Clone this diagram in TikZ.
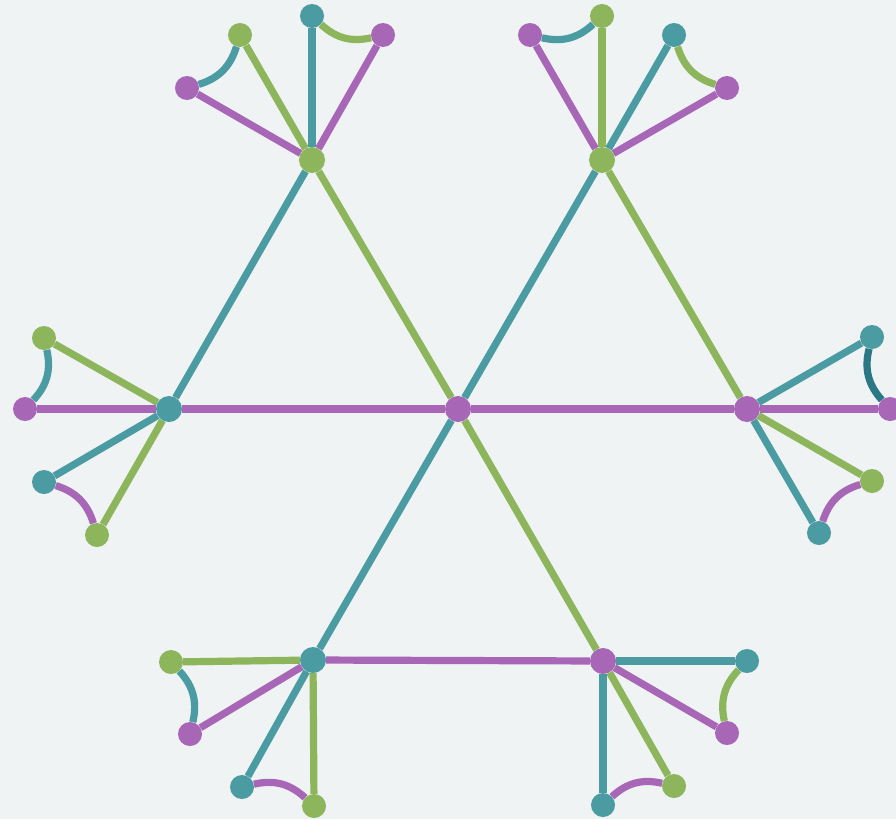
\documentclass[tikz,border=0pt]{standalone}
\usepackage{xcolor}
\usepackage{tikz}
\definecolor{FlakeTeal}{HTML}{4A9BA2}
\definecolor{FlakeGreen}{HTML}{8DB55C}
\definecolor{FlakePurple}{HTML}{A866B6}
\definecolor{FlakeDeep}{HTML}{2A7884}
\definecolor{Frost}{HTML}{EFF3F4}

\begin{document}
\begin{tikzpicture}[x=1pt,y=-1pt]
  \fill[Frost] (0,0) rectangle (896,819);
  \path[use as bounding box] (0,0) rectangle (896,819);
  \tikzset{
    flakeDot/.style={circle, minimum size=24pt, inner sep=0pt, draw=none},
    flakeHub/.style={flakeDot, minimum size=26pt},
    dotTeal/.style={fill=FlakeTeal},
    dotGreen/.style={fill=FlakeGreen},
    dotPurple/.style={fill=FlakePurple},
    flakeLink/.style={line width=7.2pt},
    flakeArc/.style={line width=7.2pt, bend right=28}
  }

  % centre and the six hubs
  \node[flakeHub,dotPurple] (core) at (458,409) {};
  \node[flakeHub,dotGreen] (hubTL) at (312,160) {};
  \node[flakeHub,dotGreen] (hubTR) at (602,160) {};
  \node[flakeHub,dotTeal] (hubL) at (169,409) {};
  \node[flakeHub,dotPurple] (hubR) at (747,409) {};
  \node[flakeHub,dotTeal] (hubBL) at (313,660) {};
  \node[flakeHub,dotPurple] (hubBR) at (603,661) {};

  % leaves, four per hub
  \node[flakeDot,dotPurple] (tlA) at (187,88) {};
  \node[flakeDot,dotGreen] (tlB) at (240,35) {};
  \node[flakeDot,dotTeal] (tlC) at (312,16) {};
  \node[flakeDot,dotPurple] (tlD) at (383,35) {};

  \node[flakeDot,dotPurple] (trA) at (530,35) {};
  \node[flakeDot,dotGreen] (trB) at (602,16) {};
  \node[flakeDot,dotTeal] (trC) at (674,35) {};
  \node[flakeDot,dotPurple] (trD) at (727,88) {};

  \node[flakeDot,dotGreen] (lA) at (44,338) {};
  \node[flakeDot,dotPurple] (lB) at (25,409) {};
  \node[flakeDot,dotTeal] (lC) at (44,482) {};
  \node[flakeDot,dotGreen] (lD) at (97,535) {};

  \node[flakeDot,dotTeal] (rA) at (872,337) {};
  \node[flakeDot,dotPurple] (rB) at (890,409) {};
  \node[flakeDot,dotGreen] (rC) at (872,481) {};
  \node[flakeDot,dotTeal] (rD) at (819,533) {};

  \node[flakeDot,dotGreen] (blA) at (171,662) {};
  \node[flakeDot,dotPurple] (blB) at (190,734) {};
  \node[flakeDot,dotTeal] (blC) at (242,787) {};
  \node[flakeDot,dotGreen] (blD) at (314,806) {};

  \node[flakeDot,dotTeal] (brA) at (747,661) {};
  \node[flakeDot,dotPurple] (brB) at (727,733) {};
  \node[flakeDot,dotGreen] (brC) at (674,786) {};
  \node[flakeDot,dotTeal] (brD) at (603,805) {};

  % spokes from the centre, and the three outer sides
  \draw[flakeLink,FlakeGreen] (core) -- (hubTL);
  \draw[flakeLink,FlakeTeal] (core) -- (hubTR);
  \draw[flakeLink,FlakePurple] (core) -- (hubL);
  \draw[flakeLink,FlakePurple] (core) -- (hubR);
  \draw[flakeLink,FlakeTeal] (core) -- (hubBL);
  \draw[flakeLink,FlakeGreen] (core) -- (hubBR);
  \draw[flakeLink,FlakeTeal] (hubTL) -- (hubL);
  \draw[flakeLink,FlakeGreen] (hubTR) -- (hubR);
  \draw[flakeLink,FlakePurple] (hubBL) -- (hubBR);

  % hub to leaf, in the leaf's colour
  \draw[flakeLink,FlakePurple] (hubTL) -- (tlA);
  \draw[flakeLink,FlakeGreen] (hubTL) -- (tlB);
  \draw[flakeLink,FlakeTeal] (hubTL) -- (tlC);
  \draw[flakeLink,FlakePurple] (hubTL) -- (tlD);

  \draw[flakeLink,FlakePurple] (hubTR) -- (trA);
  \draw[flakeLink,FlakeGreen] (hubTR) -- (trB);
  \draw[flakeLink,FlakeTeal] (hubTR) -- (trC);
  \draw[flakeLink,FlakePurple] (hubTR) -- (trD);

  \draw[flakeLink,FlakeGreen] (hubL) -- (lA);
  \draw[flakeLink,FlakePurple] (hubL) -- (lB);
  \draw[flakeLink,FlakeTeal] (hubL) -- (lC);
  \draw[flakeLink,FlakeGreen] (hubL) -- (lD);

  \draw[flakeLink,FlakeTeal] (hubR) -- (rA);
  \draw[flakeLink,FlakePurple] (hubR) -- (rB);
  \draw[flakeLink,FlakeGreen] (hubR) -- (rC);
  \draw[flakeLink,FlakeTeal] (hubR) -- (rD);

  \draw[flakeLink,FlakeGreen] (hubBL) -- (blA);
  \draw[flakeLink,FlakePurple] (hubBL) -- (blB);
  \draw[flakeLink,FlakeTeal] (hubBL) -- (blC);
  \draw[flakeLink,FlakeGreen] (hubBL) -- (blD);

  \draw[flakeLink,FlakeTeal] (hubBR) -- (brA);
  \draw[flakeLink,FlakePurple] (hubBR) -- (brB);
  \draw[flakeLink,FlakeGreen] (hubBR) -- (brC);
  \draw[flakeLink,FlakeTeal] (hubBR) -- (brD);

  % arcs between leaf pairs, bowed towards the hub
  \draw[flakeArc,FlakeTeal] (tlA) to (tlB);
  \draw[flakeArc,FlakeGreen] (tlC) to (tlD);
  \draw[flakeArc,FlakeTeal] (trA) to (trB);
  \draw[flakeArc,FlakeGreen] (trC) to (trD);
  \draw[flakeArc,FlakeTeal] (lB) to (lA);
  \draw[flakeArc,FlakePurple] (lD) to (lC);
  \draw[flakeArc,FlakeDeep] (rA) to (rB);
  \draw[flakeArc,FlakePurple] (rC) to (rD);
  \draw[flakeArc,FlakeTeal] (blB) to (blA);
  \draw[flakeArc,FlakePurple] (blD) to (blC);
  \draw[flakeArc,FlakeGreen] (brA) to (brB);
  \draw[flakeArc,FlakePurple] (brC) to (brD);
\end{tikzpicture}
\end{document}
